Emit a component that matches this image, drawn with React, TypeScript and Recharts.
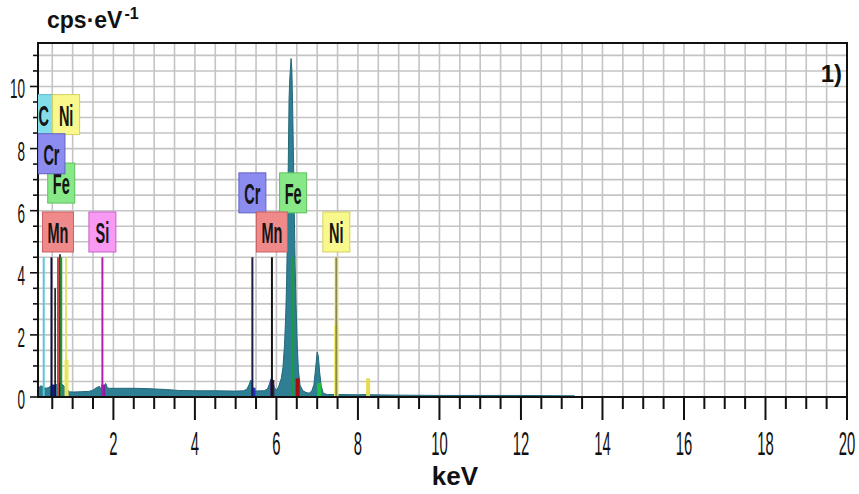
import {
  ComposedChart,
  Area,
  XAxis,
  YAxis,
  CartesianGrid,
  ReferenceLine,
  ReferenceDot,
  ReferenceArea,
} from 'recharts';

// EDS spectrum (keV vs cps/eV)
const spectrumKeV = [
  0.17, 0.22, 0.26, 0.3, 0.35, 0.4, 0.45, 0.5, 0.55, 0.6, 0.65, 0.7, 0.75, 0.8, 0.85, 0.88, 0.92,
  1.0, 1.2, 1.4, 1.5, 1.58, 1.66, 1.71, 1.76, 1.81, 1.85, 1.9, 2.2, 2.5, 2.8, 3.0, 3.3, 3.6, 4.0,
  4.5, 5.0, 5.2, 5.28, 5.33, 5.37, 5.4, 5.43, 5.5, 5.6, 5.7, 5.78, 5.83, 5.87, 5.91, 5.95, 6.0,
  6.05, 6.12, 6.16, 6.2, 6.23, 6.25, 6.27, 6.29, 6.31, 6.33, 6.36, 6.38, 6.4, 6.42, 6.44, 6.46,
  6.48, 6.51, 6.54, 6.58, 6.65, 6.72, 6.8, 6.87, 6.92, 6.96, 7.0, 7.03, 7.06, 7.1, 7.15, 7.25,
  7.5, 8.0, 8.2, 8.26, 8.32, 9.0, 10.0, 11.0, 12.0, 13.0, 13.3, 13.35, 20.0,
];
const spectrumCps = [
  0.3, 0.36, 0.34, 0.3, 0.28, 0.3, 0.34, 0.38, 0.36, 0.4, 0.44, 0.45, 0.4, 0.34, 0.28, 0.22, 0.17,
  0.16, 0.17, 0.18, 0.22, 0.3, 0.34, 0.22, 0.3, 0.44, 0.3, 0.28, 0.28, 0.28, 0.27, 0.26, 0.24, 0.21, 0.2,
  0.2, 0.19, 0.2, 0.26, 0.4, 0.54, 0.5, 0.2, 0.19, 0.2, 0.2, 0.26, 0.42, 0.6, 0.55, 0.3, 0.22,
  0.32, 0.6, 0.95, 1.7, 2.7, 3.7, 5.2, 7.4, 9.6, 10.3, 10.9, 10.5, 9.2, 7.6, 5.8, 4.2,
  3.0, 1.7, 0.85, 0.38, 0.2, 0.15, 0.12, 0.2, 0.4, 0.9, 1.45, 1.3, 0.8, 0.35, 0.12, 0.08,
  0.08, 0.07, 0.08, 0.12, 0.07, 0.06, 0.05, 0.05, 0.05, 0.04, 0.04, 0, 0,
];

// element markers (label, line energy, label stacking row)
const markerLabels = ['C', 'Ni', 'Fe', 'Cr', 'Mn', 'Si', 'Cr', 'Fe', 'Mn', 'Ni'];
const markerKeV = [0.29, 0.84, 0.72, 0.48, 0.64, 1.73, 5.41, 6.41, 5.89, 7.47];
const markerRow = [3, 3, 1.25, 2, 0, 0, 1, 1, 0, 0];
const MARKER_TOP = 4.5;

// unlabeled lines in the L region
const extraLineKeV = [0.57, 0.69];
const extraLineCps = [3.5, 4.6];

// small coloured peak fits
const fitKeV = [0.53, 0.85, 1.75, 5.44, 5.9, 6.52, 7.05, 7.47, 7.47, 8.25];
const fitCps = [0.4, 1.2, 0.4, 0.3, 0.55, 0.6, 0.45, 4.5, 2.3, 0.6];

const xLabels = [2, 4, 6, 8, 10, 12, 14, 16, 18, 20];
const yLabels = [0, 2, 4, 6, 8, 10];

// styles
const FONT = '"Liberation Sans", Arial, sans-serif';
const TEAL = '#2e7f94';
const BOX_FILL: Record<string, string> = {
  C: '#82dcea',
  Ni: '#f8f88c',
  Fe: '#88e888',
  Cr: '#8c8cf0',
  Mn: '#f08a8a',
  Si: '#f89af4',
};
const BOX_EDGE: Record<string, string> = {
  C: '#5cb8c8',
  Ni: '#d4d064',
  Fe: '#5cc05c',
  Cr: '#6262c4',
  Mn: '#c86262',
  Si: '#c862c8',
};
const markerLineColor = ['#58c8d8', '#e6e070', '#189a30', '#101030', '#d04040', '#b020b0', '#1c1c48', '#18a030', '#151515', '#8c8a48'];
const fitColor = ['#1818c0', '#f0ec40', '#8020a0', '#3030d0', '#401060', '#a01010', '#20c040', '#f4f2b0', '#f2ee50', '#e4dc50'];
const ROW_BASE = 4.67;
const ROW_STEP = 1.26;

const spectrum = spectrumKeV.map((k, i) => ({ keV: k, cps: spectrumCps[i] }));
const xTicks = Array.from({ length: 40 }, (_, i) => (i + 1) * 0.5);
const yTicks = Array.from({ length: 23 }, (_, i) => i * 0.5);

function XTick(props: any) {
  const { x, y, payload } = props;
  const v = payload.value;
  const major = xLabels.includes(v);
  return (
    <g>
      <line x1={x} y1={y} x2={x} y2={y + (major ? 23 : 12)} stroke="#111" strokeWidth={2} />
      {major && (
        <text
          transform={`translate(${x},${y + 58}) scale(0.45,1)`}
          textAnchor="middle"
          fontSize={33}
          fontFamily={FONT}
          fill="#111"
        >
          {v}
        </text>
      )}
    </g>
  );
}

function YTick(props: any) {
  const { x, y, payload } = props;
  const v = payload.value;
  const major = yLabels.includes(v);
  return (
    <g>
      <line x1={x} y1={y} x2={x - (major ? 8 : 5)} y2={y} stroke="#111" strokeWidth={1.6} />
      {major && (
        <text
          transform={`translate(${x - 13},${y + 12}) scale(0.5,1)`}
          textAnchor="end"
          fontSize={27}
          fontFamily={FONT}
          fill="#111"
        >
          {v}
        </text>
      )}
    </g>
  );
}

function LabelBox({ cx, cy, text, clipPath }: any) {
  const w = text === 'Mn' ? 31 : text.length > 1 ? 27 : 24;
  const h = 40;
  return (
    <g clipPath={clipPath}>
      <rect x={cx - w / 2} y={cy - h} width={w} height={h} fill={BOX_FILL[text]} stroke={BOX_EDGE[text]} strokeWidth={1} />
      <text
        transform={`translate(${cx},${cy - 9}) scale(0.5,1)`}
        textAnchor="middle"
        fontSize={29}
        fontWeight="bold"
        fontFamily={FONT}
        fill="#141414"
      >
        {text}
      </text>
    </g>
  );
}

export default function App() {
  return (
    <div style={{ position: 'absolute', left: 0, top: 0, width: 859, height: 494, background: '#fff' }}>
      <ComposedChart width={859} height={494} data={spectrum} margin={{ top: 43, right: 12, bottom: 96, left: 37 }}>
        <CartesianGrid stroke="#c4c4c4" strokeWidth={1.6} />
        <XAxis
          type="number"
          dataKey="keV"
          domain={[0.15, 20]}
          allowDataOverflow
          ticks={xTicks}
          interval={0}
          height={1}
          tickSize={0}
          tickMargin={0}
          tickLine={false}
          axisLine={{ stroke: '#111', strokeWidth: 2 }}
          tick={(p: any) => <XTick {...p} />}
        />
        <YAxis
          type="number"
          domain={[0, 11.4]}
          allowDataOverflow
          ticks={yTicks}
          interval={0}
          width={1}
          tickSize={0}
          tickMargin={0}
          tickLine={false}
          axisLine={{ stroke: '#111', strokeWidth: 2 }}
          tick={(p: any) => <YTick {...p} />}
        />
        <Area
          type="linear"
          dataKey="cps"
          stroke="#22677a"
          strokeWidth={1}
          fill={TEAL}
          fillOpacity={1}
          isAnimationActive={false}
        />
        {fitKeV.map((k, i) => (
          <ReferenceLine
            key={`fit${i}`}
            segment={[{ x: k, y: 0 }, { x: k, y: fitCps[i] }]}
            stroke={fitColor[i]}
            strokeWidth={4}
            ifOverflow="hidden"
          />
        ))}
        {extraLineKeV.map((k, i) => (
          <ReferenceLine
            key={`ex${i}`}
            segment={[{ x: k, y: 0 }, { x: k, y: extraLineCps[i] }]}
            stroke="#151515"
            strokeWidth={1.6}
            ifOverflow="hidden"
          />
        ))}
        {markerKeV.map((k, i) => (
          <ReferenceLine
            key={`ml${i}`}
            segment={[{ x: k, y: 0 }, { x: k, y: MARKER_TOP }]}
            stroke={markerLineColor[i]}
            strokeWidth={2}
            ifOverflow="hidden"
          />
        ))}
        {markerKeV.map((k, i) => (
          <ReferenceDot
            key={`mb${i}`}
            x={k}
            y={ROW_BASE + markerRow[i] * ROW_STEP}
            ifOverflow="hidden"
            shape={(p: any) => <LabelBox cx={p.cx} cy={p.cy} clipPath={p.clipPath} text={markerLabels[i]} />}
          />
        ))}
        <ReferenceArea x1={0.15} x2={20} y1={0} y2={11.4} fill="none" stroke="#111" strokeWidth={2} ifOverflow="visible" />
      </ComposedChart>
      <svg width={859} height={494} style={{ position: 'absolute', left: 0, top: 0, pointerEvents: 'none' }}>
        <text x={47} y={28} fontSize={23} fontWeight="bold" fontFamily={FONT} fill="#111">
          cps·eV
          <tspan fontSize={16} dx={2} dy={-9}>-1</tspan>
        </text>
        <text x={455} y={485} fontSize={26} fontWeight="bold" fontFamily={FONT} fill="#111" textAnchor="middle">
          keV
        </text>
        <text x={842} y={82} fontSize={24} fontWeight="bold" fontFamily={FONT} fill="#111" textAnchor="end">
          1)
        </text>
      </svg>
    </div>
  );
}
